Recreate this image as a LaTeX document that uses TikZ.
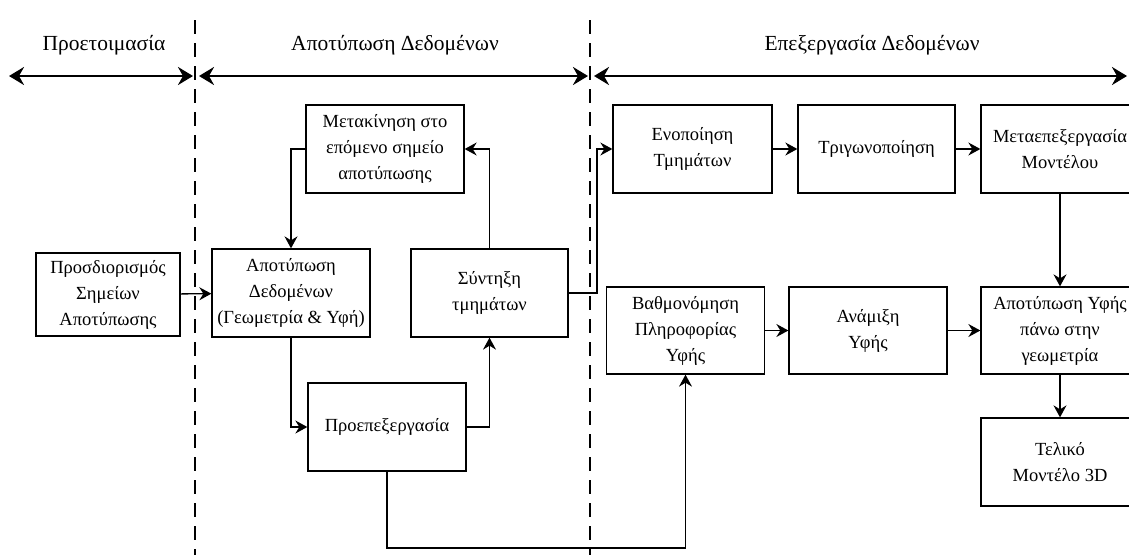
\documentclass[tikz,border=0pt]{standalone}
\usepackage{fontspec}
\setmainfont{Liberation Serif}
\usetikzlibrary{arrows.meta}
\tikzset{
  box/.style={draw, line width=1.3pt, rectangle, align=center, inner sep=2pt,
    font=\fontsize{18.5}{26}\selectfont},
  conn/.style={line width=1.3pt, -{Stealth[length=12pt,width=13pt,inset=4pt]}},
  span/.style={line width=2.8pt, {Stealth[length=15pt,width=18pt,inset=5pt]}-{Stealth[length=15pt,width=18pt,inset=5pt]}},
  sep/.style={line width=1.1pt, dash pattern=on 14pt off 9pt},
  phase/.style={font=\fontsize{21.5}{24}\selectfont}
}
\begin{document}
\begin{tikzpicture}[x=1pt,y=-1pt]
\path[use as bounding box, clip] (0,0) rectangle (1129,555);
\fill[white] (0,0) rectangle (1129,555);

% separators
\coordinate (s1t) at (195,20); \coordinate (s1b) at (195,555);
\coordinate (s2t) at (590,20); \coordinate (s2b) at (590,555);
\draw[sep] (s1t) -- (s1b);
\draw[sep] (s2t) -- (s2b);

% phase arrows
\coordinate (a1l) at (9,76); \coordinate (a1r) at (193,76);
\coordinate (a2l) at (199,76); \coordinate (a2r) at (588,76);
\coordinate (a3l) at (594,76); \coordinate (a3r) at (1127,76);
\draw[span] (a1l) -- (a1r);
\draw[span] (a2l) -- (a2r);
\draw[span] (a3l) -- (a3r);
\node[phase] (p1) at (104,45) {Προετοιμασία};
\node[phase] (p2) at (395,45) {Αποτύπωση Δεδομένων};
\node[phase] (p3) at (872,45) {Επεξεργασία Δεδομένων};

% boxes
\node[box, minimum width=144pt, minimum height=83pt] (prosd) at (108,294.5) {Προσδιορισμός\\Σημείων\\Αποτύπωσης};
\node[box, minimum width=158pt, minimum height=88pt] (apot) at (291,293) {Αποτύπωση\\Δεδομένων\\(Γεωμετρία \& Υφή)};
\node[box, minimum width=158pt, minimum height=88pt] (metak) at (385,149) {Μετακίνηση στο\\επόμενο σημείο\\αποτύπωσης};
\node[box, minimum width=157pt, minimum height=88pt] (synt) at (489.5,293) {Σύντηξη\\τμημάτων};
\node[box, minimum width=158pt, minimum height=88pt] (proep) at (387,427) {Προεπεξεργασία};
\node[box, minimum width=159pt, minimum height=88pt] (enop) at (692.5,149) {Ενοποίηση\\Τμημάτων};
\node[box, minimum width=157pt, minimum height=88pt] (trig) at (876.5,149) {Τριγωνοποίηση};
\node[box, minimum width=158pt, minimum height=88pt] (meta) at (1060,149) {Μεταεπεξεργασία\\Μοντέλου};
\node[box, minimum width=158pt, minimum height=87pt] (vath) at (685.5,330.5) {Βαθμονόμηση\\Πληροφορίας\\Υφής};
\node[box, minimum width=158pt, minimum height=87pt] (anam) at (868,330.5) {Ανάμιξη\\Υφής};
\node[box, minimum width=158pt, minimum height=87pt] (apyf) at (1060,330.5) {Αποτύπωση Υφής\\πάνω στην\\γεωμετρία};
\node[box, minimum width=158pt, minimum height=88pt] (tel) at (1060,462) {Τελικό\\Μοντέλο 3D};

% connectors
\draw[conn] (prosd) -- (apot);
\draw[conn] (metak.west) -| (apot.north);
\draw[conn] (apot.south) |- (proep.west);
\draw[conn] (proep.east) -| (synt.south);
\draw[conn] (synt.north) |- (metak.east);
\coordinate (j1) at (597,293);
\draw[conn] (synt.east) -- (j1) |- (enop.west);
\draw[conn] (enop) -- (trig);
\draw[conn] (trig) -- (meta);
\draw[conn] (meta) -- (apyf);
\coordinate (j2) at (387,548);
\draw[conn] (proep.south) -- (j2) -| (vath.south);
\draw[conn] (vath) -- (anam);
\draw[conn] (anam) -- (apyf);
\draw[conn] (apyf) -- (tel);
\end{tikzpicture}
\end{document}
